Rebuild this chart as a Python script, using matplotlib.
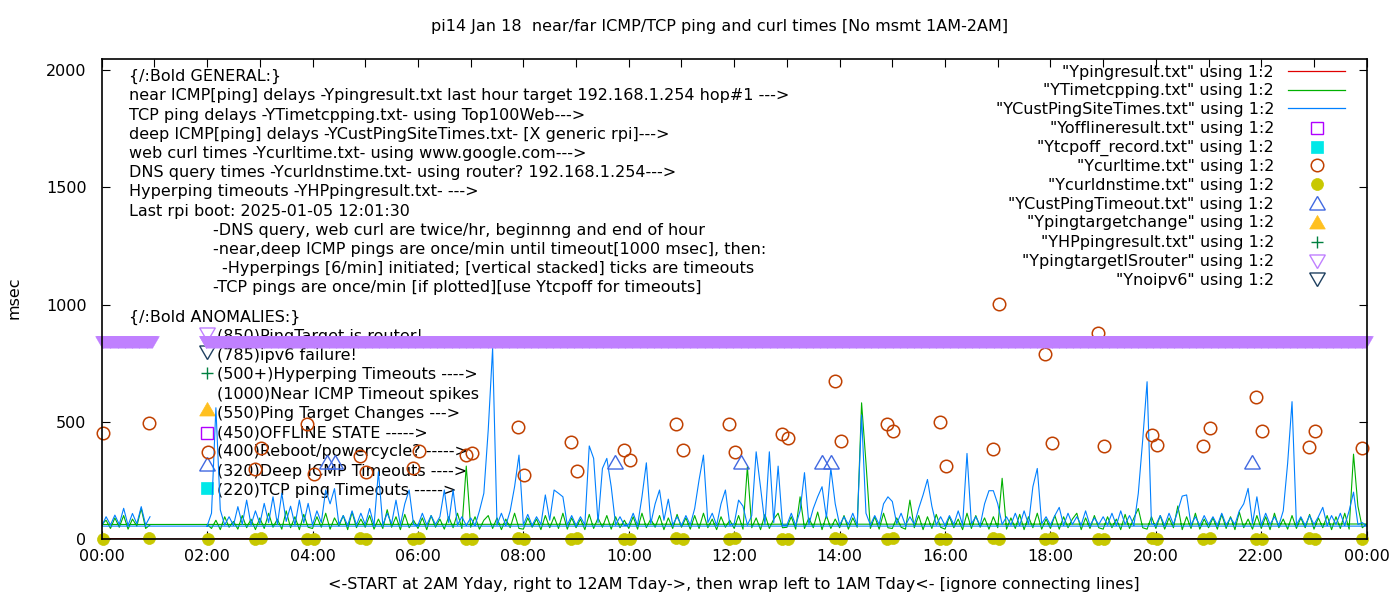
import numpy as np
import matplotlib
matplotlib.use('Agg')
import matplotlib.pyplot as plt

plt.rcParams['font.family'] = ['DejaVu Sans']
FS = 11.5

# ------------- data (x = hours of the day, y = msec) -------------
# deep ICMP (YCustPingSiteTimes) every 5 min, 2:00 .. 24:00, then wrap 0:00 .. 0:55
blue_day = [
    55, 110, 560, 124, 60, 95, 58, 138, 62, 166, 60, 120,      # 02
    65, 152, 70, 180, 62, 195, 75, 140, 60, 166, 68, 152,      # 03
    60, 120, 70, 209, 150, 215, 62, 100, 58, 120, 60, 110,     # 04
    62, 130, 58, 287, 60, 110, 65, 166, 60, 150, 209, 62,      # 05
    58, 110, 60, 100, 62, 95, 209, 70, 209, 60, 95, 58,        # 06
    90, 58, 120, 195, 465, 815, 60, 110, 58, 120, 223, 358,    # 07
    60, 105, 58, 95, 62, 188, 80, 209, 195, 180, 60, 100,      # 08
    58, 95, 60, 397, 344, 70, 301, 344, 223, 60, 95, 58,       # 09
    62, 110, 58, 180, 325, 65, 150, 209, 80, 170, 60, 95,      # 10
    58, 100, 60, 130, 252, 358, 70, 110, 58, 150, 209, 60,     # 11
    65, 166, 140, 60, 100, 372, 220, 62, 372, 70, 311, 58,     # 12
    60, 110, 58, 120, 283, 62, 130, 180, 223, 90, 301, 150,    # 13
    60, 95, 62, 110, 58, 529, 110, 60, 100, 62, 150, 180,      # 14
    160, 65, 110, 58, 95, 62, 130, 188, 254, 140, 60, 95,      # 15
    58, 100, 62, 120, 60, 365, 65, 95, 58, 150, 206, 206,      # 16
    150, 62, 95, 60, 110, 58, 120, 62, 223, 301, 65, 95,       # 17
    60, 100, 135, 58, 110, 62, 95, 60, 120, 58, 90, 62,        # 18
    95, 60, 110, 58, 120, 62, 100, 58, 195, 422, 671, 65,      # 19
    60, 100, 58, 110, 62, 120, 183, 188, 60, 95, 58, 100,      # 20
    62, 95, 58, 110, 60, 90, 62, 120, 150, 216, 65, 180,       # 21
    60, 110, 62, 95, 58, 120, 323, 586, 60, 95, 58, 100,       # 22
    62, 95, 135, 58, 100, 62, 110, 58, 120, 200, 62, 70,       # 23
    55,
]
blue_early = [55, 95, 60, 102, 62, 131, 58, 109, 65, 138, 60, 95]

# TCP ping (YTimetcpping) same grid
green_day = [
    62, 45, 80, 40, 95, 50, 75, 42, 100, 48, 85, 40,
    90, 45, 110, 50, 85, 42, 120, 48, 95, 40, 105, 50,
    45, 95, 50, 110, 42, 90, 55, 100, 40, 115, 48, 85,
    50, 100, 42, 85, 45, 125, 50, 95, 40, 105, 48, 80,
    45, 90, 40, 100, 50, 85, 42, 95, 48, 110, 45, 311,
    50, 95, 42, 80, 100, 45, 90, 40, 85, 48, 110, 45,
    42, 90, 50, 85, 40, 100, 48, 95, 45, 110, 42, 90,
    48, 85, 40, 105, 45, 90, 50, 100, 42, 95, 48, 80,
    45, 95, 42, 110, 48, 85, 50, 100, 40, 90, 45, 105,
    50, 90, 42, 100, 45, 110, 48, 85, 40, 95, 50, 80,
    45, 100, 42, 308, 48, 90, 40, 105, 45, 85, 110, 48,
    50, 95, 42, 180, 45, 90, 48, 115, 40, 100, 45, 85,
    48, 100, 42, 90, 50, 581, 325, 45, 95, 42, 110, 48,
    45, 90, 50, 42, 166, 48, 100, 40, 95, 45, 105, 50,
    42, 95, 48, 85, 40, 110, 45, 100, 50, 90, 42, 95,
    48, 259, 42, 90, 45, 105, 40, 95, 48, 110, 42, 85,
    45, 100, 42, 95, 48, 85, 110, 40, 90, 45, 100, 48,
    42, 95, 48, 85, 40, 105, 45, 90, 130, 48, 42, 95,
    45, 100, 42, 90, 48, 141, 40, 95, 45, 110, 42, 85,
    48, 90, 42, 105, 45, 95, 40, 115, 48, 85, 42, 100,
    45, 95, 40, 110, 48, 85, 42, 100, 45, 90, 48, 105,
    42, 90, 48, 100, 40, 95, 45, 110, 42, 362, 140, 48,
    64,
]
green_early = [62, 80, 45, 90, 50, 100, 42, 85, 55, 130, 45, 60]

# near ICMP (Ypingresult) hourly, sits on the x axis
red_day = [0.2, 0.3, 0.1, 0.2, 0.3, 0.2, 0.3, 0.2, 0.1, 0.3, 0.2, 0.3,
           0.2, 0.2, 0.3, 0.1, 0.2, 0.3, 0.2, 0.3, 0.2, 0.2, 0.2]
red_early = [0.2, 0.2]

# web curl times and DNS query times (twice an hour)
curl_t = [0.02, 0.90, 2.02, 2.91, 3.02, 3.90, 4.03, 4.90, 5.01, 5.91, 6.02,
          6.91, 7.02, 7.90, 8.01, 8.90, 9.02, 9.91, 10.02, 10.90, 11.03,
          11.90, 12.01, 12.91, 13.02, 13.91, 14.03, 14.90, 15.01, 15.90,
          16.02, 16.91, 17.02, 17.90, 18.03, 18.90, 19.01, 19.93, 20.02,
          20.89, 21.03, 21.90, 22.01, 22.90, 23.02, 23.91]
curl_v = [452, 495, 371, 299, 388, 490, 277, 354, 286, 303, 375,
          358, 367, 478, 273, 414, 290, 380, 337, 490, 380,
          490, 371, 448, 431, 674, 418, 490, 461, 499,
          311, 384, 1002, 789, 409, 878, 397, 443, 401,
          397, 473, 606, 461, 392, 461, 388]
dns_v = [2, 3, 2, 2, 3, 2, 2, 3, 2, 2, 3,
         2, 2, 3, 2, 2, 3, 2, 2, 3, 2,
         2, 3, 2, 2, 3, 2, 2, 3, 2,
         2, 3, 2, 2, 3, 2, 2, 3, 2,
         2, 3, 2, 2, 3, 2, 2]

# deep ICMP timeouts
deep_to_t = [4.27, 4.43, 9.73, 12.12, 13.66, 13.83, 21.82]
deep_to_v = [320, 320, 320, 320, 320, 320, 320]

# ping target is router: one point per minute inside these spans
isrouter_spans = [(0.0, 0.95), (1.97, 24.0)]
isrouter_v = 850

xtick_labels = ['00:00', '02:00', '04:00', '06:00', '08:00', '10:00', '12:00',
                '14:00', '16:00', '18:00', '20:00', '22:00', '00:00']
yticks = [0, 500, 1000, 1500, 2000]

key_labels = ['"Ypingresult.txt" using 1:2', '"YTimetcpping.txt" using 1:2',
              '"YCustPingSiteTimes.txt" using 1:2', '"Yofflineresult.txt" using 1:2',
              '"Ytcpoff_record.txt" using 1:2', '"Ycurltime.txt" using 1:2',
              '"Ycurldnstime.txt" using 1:2', '"YCustPingTimeout.txt" using 1:2',
              '"Ypingtargetchange" using 1:2', '"YHPpingresult.txt" using 1:2',
              '"YpingtargetISrouter" using 1:2', '"Ynoipv6" using 1:2']

general_text = [
    '{/:Bold GENERAL:}',
    'near ICMP[ping] delays -Ypingresult.txt last hour target 192.168.1.254 hop#1 --->',
    'TCP ping delays -YTimetcpping.txt- using Top100Web--->',
    'deep ICMP[ping] delays -YCustPingSiteTimes.txt- [X generic rpi]--->',
    'web curl times -Ycurltime.txt- using www.google.com--->',
    'DNS query times -Ycurldnstime.txt- using router? 192.168.1.254--->',
    'Hyperping timeouts -YHPpingresult.txt- --->',
    'Last rpi boot: 2025-01-05 12:01:30',
    '-DNS query, web curl are twice/hr, beginnng and end of hour',
    '-near,deep ICMP pings are once/min until timeout[1000 msec], then:',
    '-Hyperpings [6/min] initiated; [vertical stacked] ticks are timeouts',
    '-TCP pings are once/min [if plotted][use Ytcpoff for timeouts]',
]
anomaly_text = ['(850)PingTarget is router!', '(785)ipv6 failure!',
                '(500+)Hyperping Timeouts ---->', '(1000)Near ICMP Timeout spikes',
                '(550)Ping Target Changes --->', '(450)OFFLINE STATE ----->',
                '(400)Reboot/powercycle? ----->', '(320)Deep ICMP Timeouts ---->',
                '(220)TCP ping Timeouts ----->']

# ------------- colours -------------
C_RED = '#e00000'
C_GREEN = '#00b000'
C_BLUE = '#0080ff'
C_OFF = '#b000ff'
C_TCPOFF = '#00e8e8'
C_CURL = '#c04000'
C_DNS = '#c8c800'
C_DEEP = '#4169e1'
C_TCHG = '#ffc020'
C_HP = '#008040'
C_ISR = '#c080ff'
C_V6 = '#1f4060'

TRI_UP = (3, 0, 0)
TRI_DN = (3, 0, 180)


def grid5(start, n):
    return start + np.arange(n) * 5 / 60.0


blue_t = np.concatenate([grid5(2.0, len(blue_day)), grid5(0.0, len(blue_early))])
blue_y = np.array(blue_day + blue_early, dtype=float)
green_t = np.concatenate([grid5(2.0, len(green_day)), grid5(0.0, len(green_early))])
green_y = np.array(green_day + green_early, dtype=float)
red_t = np.concatenate([2.0 + np.arange(len(red_day)), [0.0, 0.95]])
red_y = np.array(red_day + red_early)

isr_t = np.concatenate([np.arange(a, b + 1e-6, 1 / 60.0) for a, b in isrouter_spans])
isr_y = np.full(len(isr_t), isrouter_v)

fig = plt.figure(figsize=(14, 6), dpi=100)
fig.patch.set_facecolor('white')

# overlay in pixel coordinates for labels/key (kept behind the data)
ov = fig.add_axes([0, 0, 1, 1])
ov.set_xlim(0, 1400)
ov.set_ylim(600, 0)
ov.axis('off')
ov.set_zorder(0)

ax = fig.add_axes([101.7 / 1400, 1 - 539 / 600, (1366.7 - 101.7) / 1400, (539 - 58.5) / 600])
ax.set_zorder(1)
ax.patch.set_alpha(0)

ax.plot(red_t, red_y, color=C_RED, lw=0.6, zorder=1)
ax.plot(green_t, green_y, color=C_GREEN, lw=0.8, zorder=3)
ax.plot(blue_t, blue_y, color=C_BLUE, lw=0.8, zorder=4)
ax.plot(curl_t, curl_v, ls='none', marker='o', ms=9, mfc='none', mec=C_CURL,
        mew=1.1, zorder=5, clip_on=False)
ax.plot(curl_t, dns_v, ls='none', marker='o', ms=8.6, mfc=C_DNS, mec=C_DNS,
        mew=0.5, zorder=6, clip_on=False)
ax.plot(deep_to_t, deep_to_v, ls='none', marker=TRI_UP, ms=13, mfc='none',
        mec=C_DEEP, mew=1.0, zorder=7)
ax.plot(isr_t, isr_y, ls='none', marker=TRI_DN, ms=11.5, mfc=C_ISR, mec=C_ISR,
        mew=0.3, zorder=8, clip_on=False)

ax.set_xlim(0, 24)
ax.set_ylim(0, 2050)
ax.set_xticks(np.arange(0, 25, 2))
ax.set_xticklabels(xtick_labels)
ax.set_xticks(np.arange(1, 24, 2), minor=True)
ax.set_yticks(yticks)
ax.set_yticklabels([str(v) for v in yticks])
ax.tick_params(which='major', direction='in', length=6, width=0.8, top=True,
               right=True, labelsize=FS, colors='black')
ax.tick_params(axis='x', which='major', pad=7)
ax.tick_params(axis='y', which='major', pad=11)
ax.tick_params(axis='x', which='minor', direction='in', length=6, width=0.8,
               bottom=False, top=True)
for s in ax.spines.values():
    s.set_linewidth(1.2)
    s.set_zorder(9)

# ------------- texts -------------
ov.text(720, 31, 'pi14 Jan 18  near/far ICMP/TCP ping and curl times [No msmt 1AM-2AM]',
        ha='center', va='baseline', fontsize=FS)
ov.text(734, 589, '<-START at 2AM Yday, right to 12AM Tday->, then wrap left to 1AM Tday<- [ignore connecting lines]',
        ha='center', va='baseline', fontsize=FS)
ov.text(14, 298, 'msec', rotation=90, ha='center', va='center', fontsize=FS)

gen_x = [129, 129, 129, 129, 129, 129, 129, 129, 213, 213, 222, 213]
for k, (s, x) in enumerate(zip(general_text, gen_x)):
    ov.text(x, 81.2 + 19.2 * k, s, ha='left', va='baseline', fontsize=FS)
ov.text(129, 321.5, '{/:Bold ANOMALIES:}', ha='left', va='baseline', fontsize=FS)

for k, s in enumerate(anomaly_text):
    ov.text(217, 340.8 + 19.28 * k, s, ha='left', va='baseline', fontsize=FS)

mx = 207
ov.plot([mx], [331.5], ls='none', marker=TRI_DN, ms=13, mfc='none', mec=C_ISR, mew=1.0)
ov.plot([mx], [349.5], ls='none', marker=TRI_DN, ms=13, mfc='none', mec=C_V6, mew=1.0)
ov.plot([mx], [372.5], ls='none', marker='+', ms=9, mec=C_HP, mew=1.0)
ov.plot([mx], [411], ls='none', marker=TRI_UP, ms=13, mfc=C_TCHG, mec=C_TCHG, mew=0.5)
ov.plot([mx], [432.5], ls='none', marker='s', ms=9, mfc='none', mec=C_OFF, mew=1.0)
ov.plot([mx], [465.5], ls='none', marker=TRI_UP, ms=13, mfc='none', mec=C_DEEP, mew=1.0)
ov.plot([mx], [487.5], ls='none', marker='s', ms=8.5, mfc=C_TCPOFF, mec=C_TCPOFF, mew=0.5)

# key (top right)
key_y = [71, 89.5, 108.3, 127.5, 146.5, 165.3, 184.2, 203, 222, 241.5, 260.6, 279]
for s, y in zip(key_labels, key_y):
    ov.text(1274, y + 5.5, s, ha='right', va='baseline', fontsize=FS)
kx = 1317
for y, c in zip(key_y[:3], [C_RED, C_GREEN, C_BLUE]):
    ov.plot([1288, 1345], [y, y], color=c, lw=0.9)
ov.plot([kx], [key_y[3]], ls='none', marker='s', ms=9, mfc='none', mec=C_OFF, mew=1.0)
ov.plot([kx], [key_y[4]], ls='none', marker='s', ms=8.5, mfc=C_TCPOFF, mec=C_TCPOFF, mew=0.5)
ov.plot([kx], [key_y[5]], ls='none', marker='o', ms=9, mfc='none', mec=C_CURL, mew=1.1)
ov.plot([kx], [key_y[6]], ls='none', marker='o', ms=8.6, mfc=C_DNS, mec=C_DNS, mew=0.5)
ov.plot([kx], [key_y[7] + 2], ls='none', marker=TRI_UP, ms=13, mfc='none', mec=C_DEEP, mew=1.0)
ov.plot([kx], [key_y[8] + 2], ls='none', marker=TRI_UP, ms=13, mfc=C_TCHG, mec=C_TCHG, mew=0.5)
ov.plot([kx], [key_y[9]], ls='none', marker='+', ms=9, mec=C_HP, mew=1.0)
ov.plot([kx], [key_y[10] - 2], ls='none', marker=TRI_DN, ms=13, mfc='none', mec=C_ISR, mew=1.0)
ov.plot([kx], [key_y[11] - 2], ls='none', marker=TRI_DN, ms=13, mfc='none', mec=C_V6, mew=1.0)

fig.savefig('out.png', dpi=100)
